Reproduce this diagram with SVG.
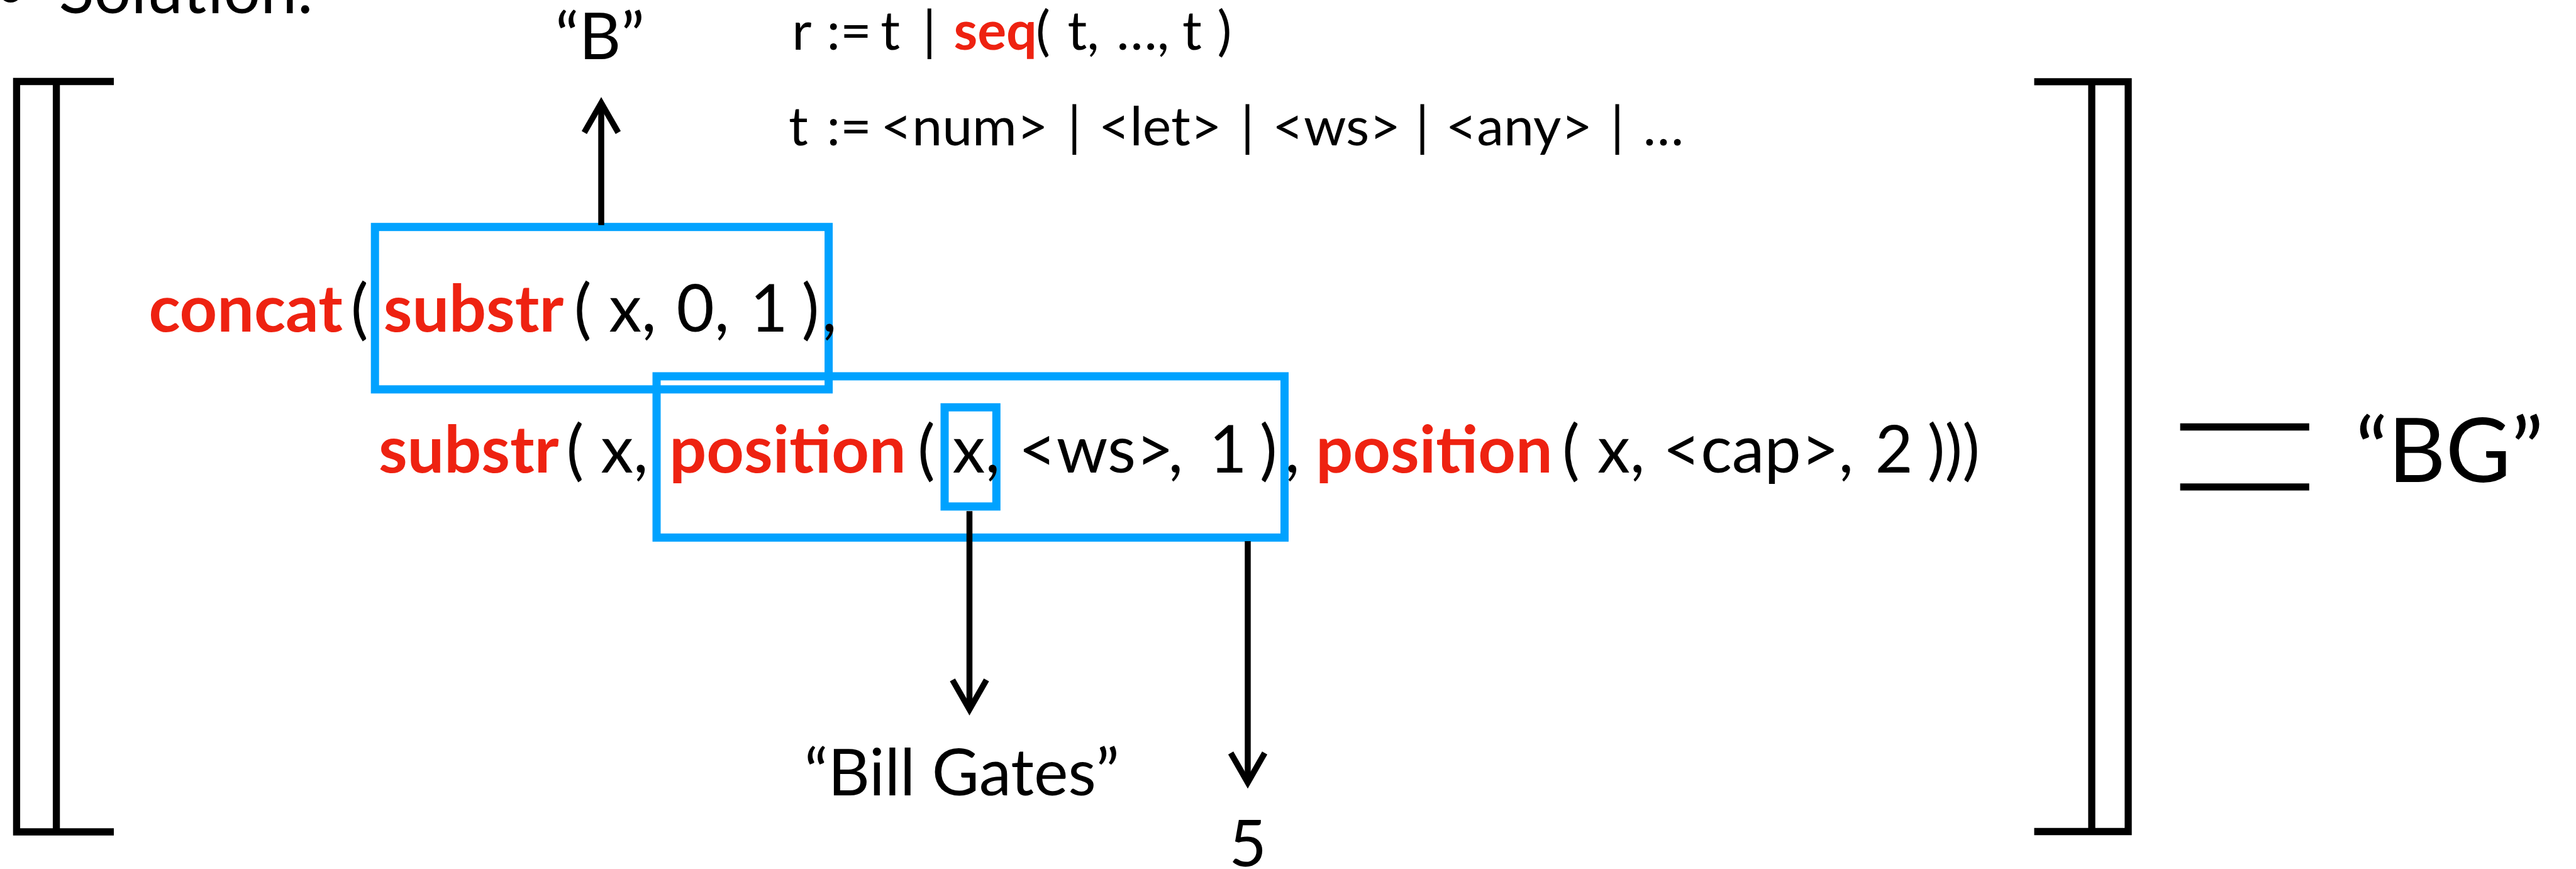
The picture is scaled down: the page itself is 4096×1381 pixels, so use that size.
<svg xmlns="http://www.w3.org/2000/svg" width="4096" height="1381" viewBox="0 0 4096 1381">
  <defs>
    <style>
      text { font-family: Lato, "Open Sans", "Liberation Sans", sans-serif; fill: #000; }
      .code { font-size: 104px; }
      .gram { font-size: 86px; }
      .lbl { font-size: 103px; }
      .kw { fill: #ee2211; font-weight: bold; }
      .box { fill: none; stroke: #00a2ff; stroke-width: 13; }
      .bracket { fill: none; stroke: #000; stroke-width: 11.3; stroke-linejoin: miter; }
      .arrow { fill: none; stroke: #000; stroke-width: 9.5; marker-end: url(#open-head); }
    </style>
    <marker id="open-head" markerUnits="userSpaceOnUse" viewBox="-60 -40 70 80" markerWidth="70" markerHeight="80" refX="0" refY="0" orient="auto" overflow="visible">
      <path d="M-47,-27 L0,0 L-47,27" fill="none" stroke="#000" stroke-width="9.5" stroke-linejoin="miter"/>
    </marker>
  </defs>

  <rect width="4096" height="1381" fill="#fff"/>

  <!-- bullet heading, cut off at the top edge -->
  <g id="heading">
    <text class="code" x="17" y="16" text-anchor="middle">•</text>
    <text class="code" x="93.5" y="20.8">Solution:</text>
  </g>

  <!-- semantic brackets -->
  <g id="bracket-left">
    <path class="bracket" d="M181,129.5 H26.4 V1322 H181"/>
    <path class="bracket" d="M89.6,129.5 V1322"/>
  </g>
  <g id="bracket-right">
    <path class="bracket" d="M3234.5,129.9 H3384 V1321.5 H3234.5"/>
    <path class="bracket" d="M3326,129.9 V1321.5"/>
  </g>

  <!-- grammar of regular expressions -->
  <g id="grammar">
    <text class="gram" y="78.8">
      <tspan x="1259.2">r</tspan><tspan x="1314.6">:=</tspan><tspan x="1400.3">t</tspan><tspan x="1467">|</tspan><tspan x="1516.4" class="kw">seq</tspan><tspan x="1647.1">(</tspan><tspan x="1697.4">t,</tspan><tspan x="1775.3">…,</tspan><tspan x="1880">t</tspan><tspan x="1935.5">)</tspan>
    </text>
    <text class="gram" y="231.2">
      <tspan x="1254">t</tspan><tspan x="1314.6">:=</tspan><tspan x="1400.3">&lt;num&gt;</tspan><tspan x="1697.4">|</tspan><tspan x="1746.7">&lt;let&gt;</tspan><tspan x="1972.7">|</tspan><tspan x="2023">&lt;ws&gt;</tspan><tspan x="2250.7">|</tspan><tspan x="2298.4">&lt;any&gt;</tspan><tspan x="2560.8">|</tspan><tspan x="2612.7">…</tspan>
    </text>
  </g>

  <!-- highlighted sub-expressions (drawn under the code text) -->
  <g id="box-substr">
    <rect class="box" x="596.2" y="360.7" width="721.4" height="258.1"/>
  </g>
  <g id="box-position">
    <rect class="box" x="1044" y="598" width="998.5" height="256.3"/>
  </g>
  <g id="box-x">
    <rect class="box" x="1502" y="647.3" width="82.3" height="157.6"/>
  </g>

  <!-- program expression -->
  <g id="expression">
    <text class="code" y="527.4">
      <tspan x="236.4" class="kw">concat</tspan><tspan x="557.7">(</tspan><tspan x="609.7" class="kw">substr</tspan><tspan x="912.8">(</tspan><tspan x="968.2">x,</tspan><tspan x="1075.6">0,</tspan><tspan x="1192.5">1</tspan><tspan x="1274.8">)</tspan><tspan x="1307">,</tspan>
    </text>
    <text class="code" y="750.8">
      <tspan x="601.9" class="kw">substr</tspan><tspan x="900.6">(</tspan><tspan x="955.2">x,</tspan><tspan x="1064.3" class="kw">position</tspan><tspan x="1459">(</tspan><tspan x="1514.6">x,</tspan><tspan x="1619.4">&lt;ws&gt;</tspan><tspan x="1857.6">,</tspan><tspan x="1922.5">1</tspan><tspan x="2003">)</tspan><tspan x="2042.9">,</tspan><tspan x="2092.3" class="kw">position</tspan><tspan x="2484">(</tspan><tspan x="2540">x,</tspan><tspan x="2643.9">&lt;cap&gt;</tspan><tspan x="2923.6">,</tspan><tspan x="2981.6">2</tspan><tspan x="3064.8">)))</tspan>
    </text>
  </g>

  <!-- evaluated values -->
  <g id="value-B">
    <text class="lbl" x="954" y="93.5" text-anchor="middle">“B”</text>
  </g>
  <g id="value-input">
    <text class="lbl" x="1529.4" y="1263.5" text-anchor="middle">“Bill Gates”</text>
  </g>
  <g id="value-5">
    <text class="lbl" x="1984" y="1377" text-anchor="middle">5</text>
  </g>

  <!-- equals sign and result -->
  <g id="equals">
    <line x1="3466.6" y1="678.5" x2="3671.8" y2="678.5" stroke="#000" stroke-width="11.3"/>
    <line x1="3466.6" y1="773.8" x2="3671.8" y2="773.8" stroke="#000" stroke-width="11.3"/>
  </g>
  <g id="result">
    <text x="3894.8" y="766.4" text-anchor="middle" font-size="142">“BG”</text>
  </g>

  <!-- connectors -->
  <g id="connectors">
    <line class="arrow" x1="956" y1="357.7" x2="956" y2="163.7"/>
    <line class="arrow" x1="1541.5" y1="812.3" x2="1541.5" y2="1127.5"/>
    <line class="arrow" x1="1984" y1="860" x2="1984" y2="1243.6"/>
  </g>
</svg>
